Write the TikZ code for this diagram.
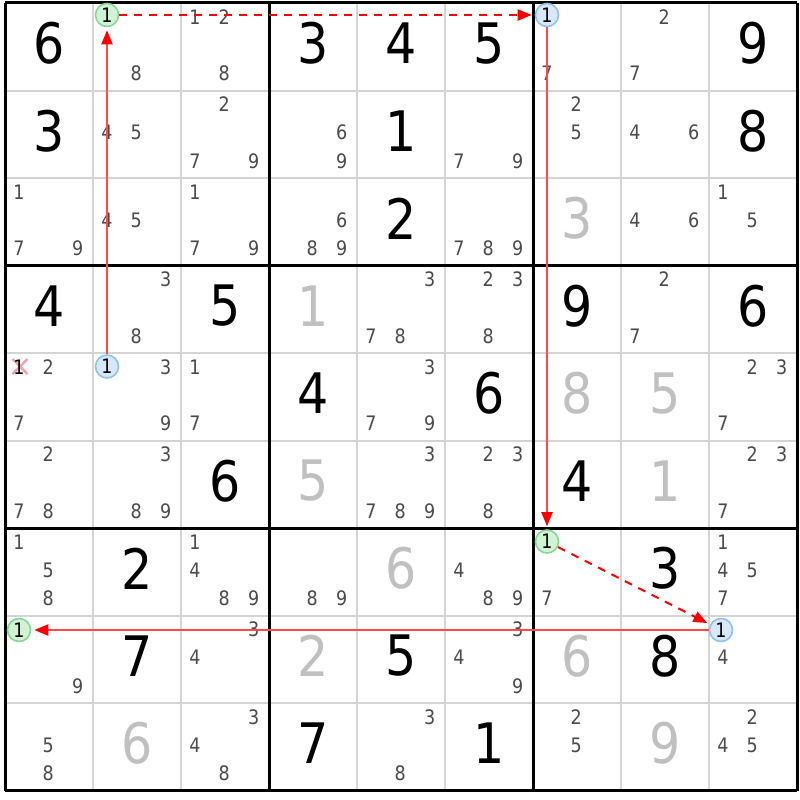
\documentclass[tikz,border=0pt]{standalone}
\usepackage{fontspec}
\setmainfont{DejaVu Sans}[FakeStretch=0.88]
\usetikzlibrary{arrows.meta}
\definecolor{candc}{HTML}{4A4A4A}
\definecolor{solvedc}{HTML}{C0C0C0}
\definecolor{thinc}{HTML}{D4D4D4}
\definecolor{chainc}{HTML}{FF4A4A}
\definecolor{greenfill}{HTML}{D2F2D6}
\definecolor{greenline}{HTML}{86D894}
\definecolor{bluefill}{HTML}{D8E8FA}
\definecolor{blueline}{HTML}{8EC2F2}
\definecolor{xc}{HTML}{F4A0A8}
\begin{document}
\begin{tikzpicture}[x=1bp,y=-1bp,
  given/.style={font=\fontsize{56}{56}\selectfont, inner sep=0pt, text=black},
  solved/.style={given, text=solvedc},
  cand/.style={font=\fontsize{20}{20}\selectfont, inner sep=0pt, text=candc},
  oncircle/.style={circle, draw=greenline, fill=greenfill, line width=1.6bp, minimum size=23bp, inner sep=0pt, font=\fontsize{20}{20}\selectfont, text=black},
  offcircle/.style={oncircle, draw=blueline, fill=bluefill},
  strong/.style={draw=chainc, line width=2bp, -{Triangle[length=14bp,width=11bp,color=red]}, shorten >=3bp},
  weak/.style={strong, draw=red, dash pattern=on 8bp off 7bp},
  thinline/.style={draw=thinc, line width=2bp},
  thickline/.style={draw=black, line width=3bp},
]
\fill[white] (0,0) rectangle (800,800);
\useasboundingbox (0,0) rectangle (800,800);
% grid
\foreach \i in {1,2,4,5,7,8} {
  \draw[thinline] ({5+88*\i},3) -- ({5+88*\i},790.5);
  \draw[thinline] (5,{3+87.5*\i}) -- (797,{3+87.5*\i});
}
\foreach \i in {0,3,6,9} {
  \draw[thickline] ({5+88*\i},3) -- ({5+88*\i},790.5);
  \draw[thickline] (5,{3+87.5*\i}) -- (797,{3+87.5*\i});
}
% givens
\foreach \r/\c/\d in {0/0/6,0/3/3,0/4/4,0/5/5,0/8/9,
  1/0/3,1/4/1,1/8/8, 2/4/2, 3/0/4,3/2/5,3/6/9,3/8/6,
  4/3/4,4/5/6, 5/2/6,5/6/4, 6/1/2,6/7/3, 7/1/7,7/4/5,7/7/8, 8/3/7,8/5/1}
  \node[given] (g\r\c) at ({5+88*\c+44},{3+87.5*\r+40.5}) {\d};
% solved
\foreach \r/\c/\d in {2/6/3,3/3/1,4/6/8,4/7/5,5/3/5,5/7/1,6/4/6,7/3/2,7/6/6,8/1/6,8/7/9}
  \node[solved] (s\r\c) at ({5+88*\c+44},{3+87.5*\r+40.5}) {\d};
% candidates
\foreach \r/\c/\ds in {0/1/{8},0/2/{1,2,8},0/6/{7},0/7/{2,7},
  1/1/{4,5},1/2/{2,7,9},1/3/{6,9},1/5/{7,9},1/6/{2,5},1/7/{4,6},
  2/0/{1,7,9},2/1/{4,5},2/2/{1,7,9},2/3/{6,8,9},2/5/{7,8,9},2/7/{4,6},2/8/{1,5},
  3/1/{3,8},3/4/{3,7,8},3/5/{2,3,8},3/7/{2,7},
  4/0/{2,7},4/1/{3,9},4/2/{1,7},4/4/{3,7,9},4/8/{2,3,7},
  5/0/{2,7,8},5/1/{3,8,9},5/4/{3,7,8,9},5/5/{2,3,8},5/8/{2,3,7},
  6/0/{1,5,8},6/2/{1,4,8,9},6/3/{8,9},6/5/{4,8,9},6/6/{7},6/8/{1,4,5,7},
  7/0/{9},7/2/{3,4},7/5/{3,4,9},7/8/{4},
  8/0/{5,8},8/2/{3,4,8},8/4/{3,8},8/6/{2,5},8/8/{2,4,5}} {
  \foreach \n in \ds {
    \pgfmathsetmacro\px{5+88*\c+14+29.3*mod(\n-1,3)}
    \pgfmathsetmacro\py{3+87.5*\r+14+28.2*floor((\n-1)/3)}
    \node[cand] (k\r\c\n) at (\px,\py) {\n};
  }
}
% eliminated candidate
\draw[xc, line width=2.2bp] (12.5,359) -- (27.5,374) (12.5,374) -- (27.5,359);
\node[cand, text=black] (k401) at (19,367) {1};
% chain candidates
\node[oncircle] (c01) at (107,15) {1};
\node[offcircle] (c06) at (547,15) {1};
\node[offcircle] (c41) at (107,366.5) {1};
\node[oncircle] (c66) at (547,541.5) {1};
\node[offcircle] (c78) at (721,630) {1};
\node[oncircle] (c70) at (19,630) {1};
% chain
\draw[strong] (c41) -- (c01);
\draw[weak] (c01) -- (c06);
\draw[strong] (c06) -- (c66);
\draw[weak] (c66) -- (c78);
\draw[strong] (c78) -- (c70);
\end{tikzpicture}
\end{document}
